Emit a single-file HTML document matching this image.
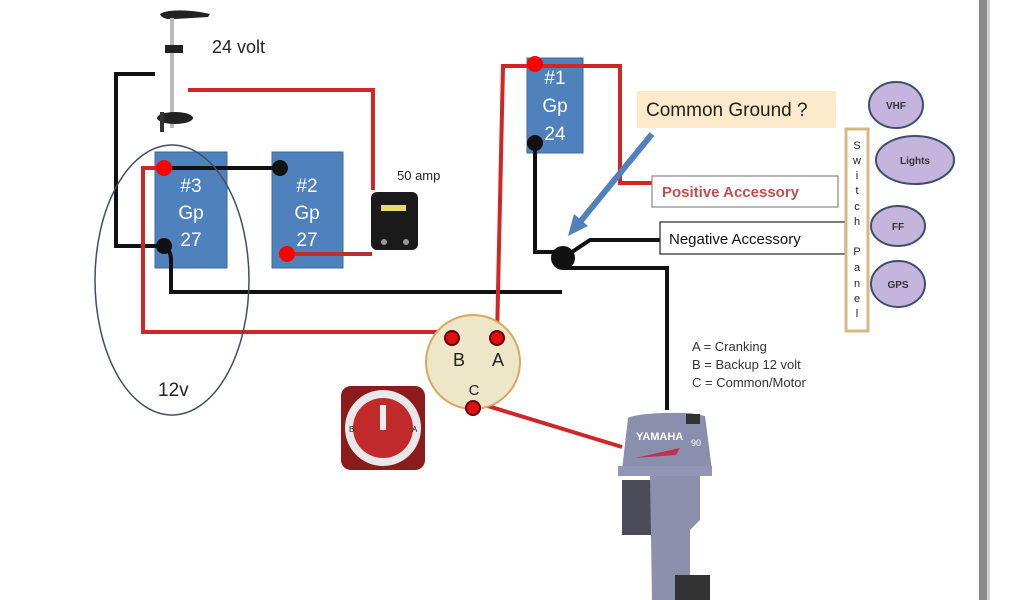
<!DOCTYPE html>
<html><head><meta charset="utf-8"><style>
html,body{margin:0;padding:0;background:#fff;width:1024px;height:600px;overflow:hidden}
text{font-family:"Liberation Sans",sans-serif}
</style></head><body>
<svg width="1024" height="600" viewBox="0 0 1024 600" xmlns="http://www.w3.org/2000/svg">
<rect x="0" y="0" width="1024" height="600" fill="#fff"/>
<rect x="979" y="0" width="8" height="600" fill="#8a8a8a"/>
<rect x="987" y="0" width="3" height="600" fill="#d0d0d0"/>

<!-- trolling motor -->
<path d="M160 14 Q170 8 200 12 L210 14 L208 17 L175 19 Q162 20 160 14Z" fill="#222"/>
<rect x="170" y="18" width="4" height="110" fill="#bbb"/>
<rect x="165" y="45" width="18" height="8" fill="#222"/>
<ellipse cx="175" cy="118" rx="18" ry="6" fill="#222"/>
<rect x="160" y="112" width="4" height="20" fill="#333"/>
<text x="212" y="53" font-size="18" fill="#222">24 volt</text>

<!-- batteries -->
<rect x="155" y="152" width="72" height="116" fill="#4f81bd" stroke="#3b6aa0" stroke-width="1"/>
<rect x="272" y="152" width="71" height="116" fill="#4f81bd" stroke="#3b6aa0" stroke-width="1"/>
<rect x="527" y="58" width="56" height="95" fill="#4f81bd" stroke="#3b6aa0" stroke-width="1"/>
<g fill="#fff" font-size="19" text-anchor="middle">
<text x="191" y="192">#3</text><text x="191" y="219">Gp</text><text x="191" y="246">27</text>
<text x="307" y="192">#2</text><text x="307" y="219">Gp</text><text x="307" y="246">27</text>
<text x="555" y="84">#1</text><text x="555" y="112">Gp</text><text x="555" y="140">24</text>
</g>

<!-- wires -->
<g fill="none" stroke-width="4" stroke-linejoin="miter">
<path d="M155 74 H116 V246 H164" stroke="#111"/>
<path d="M188 90 H373 V190" stroke="#d02626"/>
<path d="M164 168 H280" stroke="#111"/>
<path d="M164 168 H143 V332 H452" stroke="#d02626"/>
<path d="M287 254 H372" stroke="#b83030"/>
<path d="M164 246 Q171 250 171 260 V292 H562" stroke="#111"/>
<path d="M497 337 L503 66 H620 V183 H652" stroke="#d02626"/>
<path d="M535 143 V252 H560" stroke="#111"/>
<path d="M563 258 L590 240 H660" stroke="#111"/>
<path d="M563 268 H667 V410" stroke="#111"/>
<path d="M478 403 L622 447" stroke="#d02626"/>
</g>

<circle cx="164" cy="168" r="8" fill="#f00"/>
<circle cx="280" cy="168" r="8" fill="#111"/>
<circle cx="164" cy="246" r="8" fill="#111"/>
<circle cx="287" cy="254" r="8" fill="#f00"/>
<circle cx="535" cy="64" r="8" fill="#f00"/>
<circle cx="535" cy="143" r="8" fill="#111"/>
<circle cx="563" cy="258" r="12" fill="#111"/>

<!-- ellipse 12v -->
<ellipse cx="172" cy="280" rx="77" ry="135" fill="none" stroke="#3d5068" stroke-width="1.5"/>
<text x="158" y="396" font-size="19" fill="#222">12v</text>

<!-- breaker -->
<rect x="371" y="192" width="47" height="58" rx="6" fill="#1a1a1a"/>
<rect x="381" y="205" width="25" height="6" fill="#e8d870"/>
<circle cx="384" cy="242" r="3" fill="#999"/><circle cx="406" cy="242" r="3" fill="#999"/>
<text x="397" y="180" font-size="13" fill="#222">50 amp</text>

<!-- common ground -->
<rect x="637" y="91" width="199" height="37" fill="#fde9cc"/>
<text x="646" y="116" font-size="19" fill="#222">Common Ground ?</text>
<line x1="652" y1="134" x2="580" y2="222" stroke="#4f81bd" stroke-width="6"/>
<polygon points="568,236 574,214 588,226" fill="#4f81bd"/>

<rect x="652" y="176" width="186" height="31" fill="#fff" stroke="#888" stroke-width="1.2"/>
<text x="662" y="197" font-size="15" font-weight="bold" fill="#c0504d">Positive  Accessory</text>
<rect x="660" y="222" width="185" height="32" fill="#fff" stroke="#222" stroke-width="1.2"/>
<text x="669" y="244" font-size="15" fill="#111">Negative Accessory</text>

<!-- switch panel -->
<rect x="846" y="129" width="22" height="202" fill="#fff" stroke="#d8b880" stroke-width="3"/>
<g font-size="11" fill="#222" text-anchor="middle">
<text x="857" y="149">S</text><text x="857" y="164">w</text><text x="857" y="179">i</text><text x="857" y="194">t</text><text x="857" y="210">c</text><text x="857" y="225">h</text>
<text x="857" y="255">P</text><text x="857" y="271">a</text><text x="857" y="287">n</text><text x="857" y="302">e</text><text x="857" y="317">l</text>
</g>
<g fill="#c5b5dc" stroke="#3d4f6e" stroke-width="2">
<ellipse cx="896" cy="105" rx="27" ry="23"/>
<ellipse cx="915" cy="160" rx="39" ry="24"/>
<ellipse cx="898" cy="226" rx="27" ry="20"/>
<ellipse cx="898" cy="284" rx="27" ry="23"/>
</g>
<g font-size="10" font-weight="bold" fill="#333" text-anchor="middle">
<text x="896" y="109">VHF</text><text x="915" y="164">Lights</text><text x="898" y="230">FF</text><text x="898" y="288">GPS</text>
</g>

<!-- switch circle -->
<circle cx="473" cy="362" r="47" fill="#ede6c8" stroke="#d9a860" stroke-width="2"/>
<circle cx="452" cy="338" r="7" fill="#e01010" stroke="#600" stroke-width="2"/>
<circle cx="497" cy="338" r="7" fill="#e01010" stroke="#600" stroke-width="2"/>
<circle cx="473" cy="408" r="7" fill="#e01010" stroke="#600" stroke-width="2"/>
<g font-size="18" fill="#222" text-anchor="middle">
<text x="459" y="366">B</text><text x="498" y="366">A</text><text x="474" y="395" font-size="15">C</text>
</g>

<!-- red battery switch -->
<rect x="341" y="386" width="84" height="84" rx="10" fill="#8c1c1c"/>
<circle cx="383" cy="428" r="38" fill="#e8e8e8"/>
<circle cx="383" cy="428" r="30" fill="#c02a2a"/>
<rect x="380" y="405" width="6" height="25" fill="#eee"/>
<text x="349" y="432" font-size="8" fill="#222">B</text><text x="412" y="432" font-size="8" fill="#222">A</text>

<!-- legend -->
<g font-size="13" fill="#333">
<text x="692" y="351">A = Cranking</text>
<text x="692" y="369">B = Backup 12 volt</text>
<text x="692" y="387">C = Common/Motor</text>
</g>

<!-- outboard -->
<path d="M628 418 Q640 412 690 413 L705 416 L712 470 L622 470 Z" fill="#8a8fae"/>
<rect x="686" y="414" width="14" height="10" fill="#333"/>
<text x="636" y="440" font-size="11" font-weight="bold" fill="#fff">YAMAHA</text>
<text x="691" y="446" font-size="9" fill="#fff">90</text>
<path d="M635 458 L680 448 L676 455 Z" fill="#c03050"/>
<rect x="618" y="466" width="94" height="10" fill="#9296b4"/>
<rect x="622" y="480" width="30" height="55" fill="#4a4c5a"/>
<path d="M650 476 H700 V520 L690 530 V600 H652 Z" fill="#8d90ac"/>
<rect x="675" y="575" width="35" height="25" fill="#333"/>
</svg>
</body></html>
